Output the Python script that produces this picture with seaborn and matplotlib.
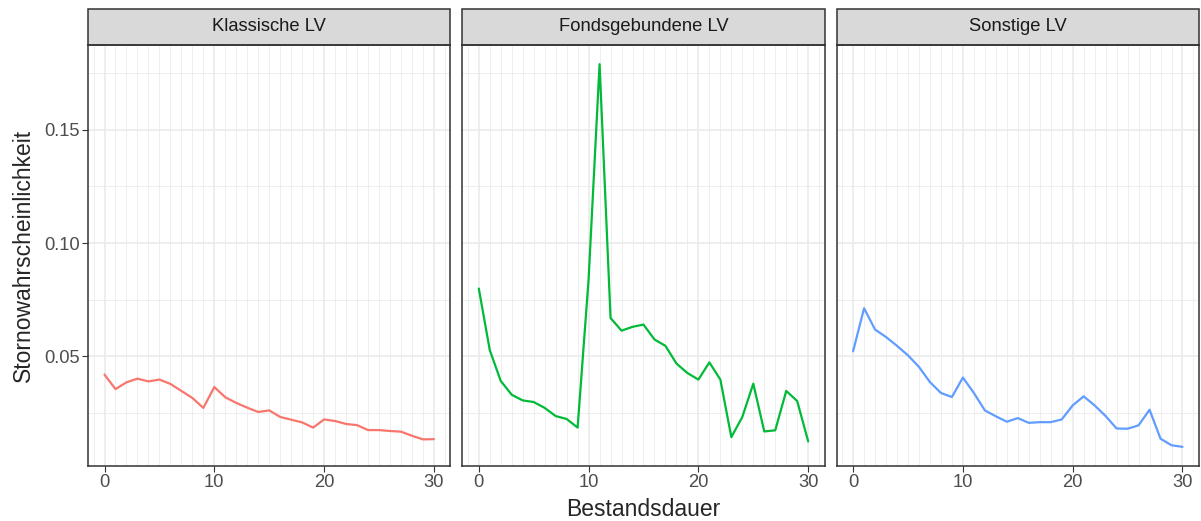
import pandas as pd
import seaborn as sns
import matplotlib.pyplot as plt
from matplotlib.patches import Rectangle
from matplotlib.ticker import MultipleLocator, FixedLocator

# data
bestandsdauer = list(range(31))
klassisch = [0.0419, 0.0355, 0.0385, 0.0401, 0.0389, 0.0397, 0.0378, 0.0347, 0.0316, 0.0272,
             0.0364, 0.0319, 0.0294, 0.0273, 0.0254, 0.0261, 0.0232, 0.0220, 0.0208, 0.0185,
             0.0221, 0.0214, 0.0201, 0.0196, 0.0174, 0.0174, 0.0170, 0.0167, 0.0149, 0.0133,
             0.0134]
fondsgebunden = [0.0799, 0.0527, 0.0391, 0.0330, 0.0305, 0.0298, 0.0272, 0.0236, 0.0223, 0.0185,
                 0.0840, 0.1790, 0.0669, 0.0613, 0.0630, 0.0640, 0.0574, 0.0546, 0.0468, 0.0426,
                 0.0397, 0.0473, 0.0397, 0.0143, 0.0232, 0.0379, 0.0168, 0.0173, 0.0347, 0.0302,
                 0.0124]
sonstige = [0.0522, 0.0712, 0.0618, 0.0585, 0.0546, 0.0504, 0.0453, 0.0386, 0.0338, 0.0320,
            0.0406, 0.0338, 0.0261, 0.0235, 0.0211, 0.0227, 0.0206, 0.0209, 0.0209, 0.0221,
            0.0283, 0.0323, 0.0283, 0.0236, 0.0181, 0.0180, 0.0195, 0.0264, 0.0136, 0.0107,
            0.0100]
produkte = ["Klassische LV", "Fondsgebundene LV", "Sonstige LV"]
farben = ["#F8766D", "#00BA38", "#619CFF"]

df = pd.concat([
    pd.DataFrame({"Bestandsdauer": bestandsdauer, "Storno": werte, "Produkt": name})
    for name, werte in zip(produkte, [klassisch, fondsgebunden, sonstige])
])

sns.set_style("white")
plt.rcParams["font.family"] = ["Liberation Sans", "DejaVu Sans"]

fig, axes = plt.subplots(1, 3, figsize=(12.01, 5.21), dpi=100, sharey=True)
fig.subplots_adjust(left=0.0733, right=0.9983, bottom=0.1056, top=0.9136, wspace=0.033)

ymin, ymax = df["Storno"].min(), df["Storno"].max()
pad = (ymax - ymin) * 0.05

for ax, name, farbe in zip(axes, produkte, farben):
    sns.lineplot(data=df[df["Produkt"] == name], x="Bestandsdauer", y="Storno",
                 color=farbe, lw=1.6, ax=ax)
    ax.set_xlim(-1.5, 31.5)
    ax.set_ylim(ymin - pad, ymax + pad)
    ax.xaxis.set_major_locator(FixedLocator([0, 10, 20, 30]))
    ax.xaxis.set_minor_locator(MultipleLocator(1))
    ax.yaxis.set_major_locator(FixedLocator([0.05, 0.10, 0.15]))
    ax.yaxis.set_minor_locator(FixedLocator([0.025, 0.075, 0.125, 0.175]))
    ax.set_yticklabels(["0.05", "0.10", "0.15"])
    ax.grid(which="major", color="#EBEBEB", lw=1.2)
    ax.grid(which="minor", color="#EBEBEB", lw=0.6)
    ax.set_axisbelow(True)
    for s in ax.spines.values():
        s.set_color("#333333")
        s.set_linewidth(1.1)
    ax.tick_params(which="major", length=4, width=0.8, color="#333333",
                   labelsize=13.2, labelcolor="#4D4D4D", pad=2,
                   bottom=True, left=True)
    ax.tick_params(which="minor", length=0)
    ax.set_xlabel("")
    ax.set_ylabel("")
    # facet strip
    ax.add_patch(Rectangle((0, 1), 1, 0.0855, transform=ax.transAxes, clip_on=False,
                           facecolor="#D9D9D9", edgecolor="#333333", lw=1.1))
    ax.text(0.5, 1.0428, name, transform=ax.transAxes, ha="center", va="center",
            fontsize=13.2, color="#1A1A1A")

for ax in axes[1:]:
    ax.tick_params(axis="y", left=False, labelleft=False)

fig.text(0.5355, 0.023, "Bestandsdauer", ha="center", va="center", fontsize=16.5)
fig.text(0.0195, 0.51, "Stornowahrscheinlichkeit", ha="center", va="center",
         rotation=90, fontsize=16.5)

plt.savefig("out.png", dpi=100)
